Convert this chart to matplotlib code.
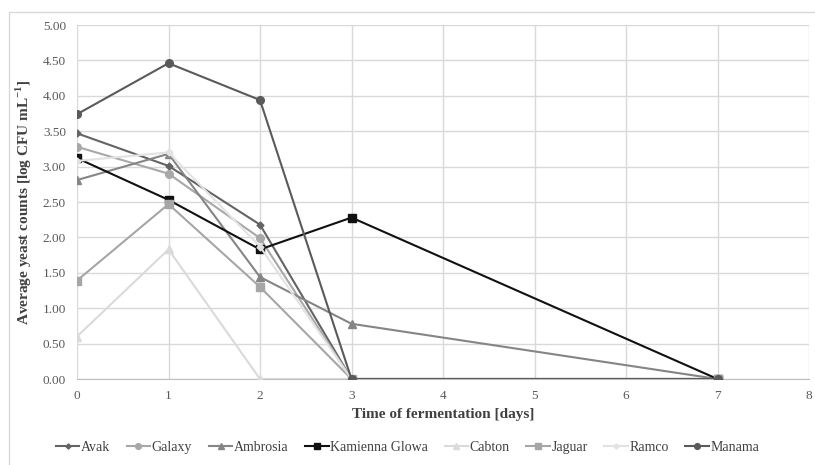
import matplotlib
matplotlib.use("Agg")
import matplotlib.pyplot as plt
from matplotlib.patches import Rectangle

days = [0, 1, 2, 3, 7]
series_names = ["Avak", "Galaxy", "Ambrosia", "Kamienna Glowa", "Cabton", "Jaguar", "Ramco", "Manama"]
avak = [3.47, 3.01, 2.18, 0.0, 0.0]
galaxy = [3.28, 2.90, 1.99, 0.0, 0.0]
ambrosia = [2.81, 3.18, 1.44, 0.78, 0.0]
kamienna = [3.12, 2.53, 1.83, 2.28, 0.0]
cabton = [0.60, 1.83, 0.0, 0.0, 0.0]
jaguar = [1.39, 2.47, 1.30, 0.0, 0.0]
ramco = [3.08, 3.20, 1.87, 0.0, 0.0]
manama = [3.74, 4.46, 3.94, 0.0, 0.0]
y_ticks = [0.0, 0.5, 1.0, 1.5, 2.0, 2.5, 3.0, 3.5, 4.0, 4.5, 5.0]
x_ticks = [0, 1, 2, 3, 4, 5, 6, 7, 8]

values = [avak, galaxy, ambrosia, kamienna, cabton, jaguar, ramco, manama]
colors = ["#646464", "#a8a8a8", "#858585", "#111111", "#dadada", "#a6a6a6", "#e2e2e2", "#5a5a5a"]
markers = ["D", "o", "^", "s", "^", "s", "D", "o"]
msizes = [3.5, 5.5, 5.5, 5.5, 5.5, 5.5, 3.5, 5.5]

plt.rcParams['font.family'] = ['Liberation Serif', 'DejaVu Serif']

fig = plt.figure(figsize=(8.15, 4.65), dpi=100)
ax = fig.add_axes([77/815, 1-379/465, (809-77)/815, (379-25)/465])

fig.patches.append(Rectangle((9/815, -0.05), 1.1, 1-12/465+0.05, transform=fig.transFigure,
                             fill=False, edgecolor="#d9d9d9", linewidth=1.0))

for name, vals, c, m, ms in zip(series_names, values, colors, markers, msizes):
    ax.plot(days, vals, color=c, marker=m, markersize=ms, linewidth=1.5, label=name, zorder=3)

ax.set_xlim(0, 8)
ax.set_ylim(0, 5)
ax.set_xticks(x_ticks)
ax.set_xticklabels([str(v) for v in x_ticks])
ax.set_yticks(y_ticks)
ax.set_yticklabels([f"{v:.2f}" for v in y_ticks])
ax.grid(True, color="#d9d9d9", linewidth=1.0, zorder=0)
ax.set_axisbelow(True)
for s in ["top", "right", "left"]:
    ax.spines[s].set_visible(False)
ax.spines["bottom"].set_color("#bfbfbf")
ax.tick_params(length=0, labelsize=9.5, colors="#595959", pad=8)

ax.set_xlabel("Time of fermentation [days]", fontsize=11, fontweight="bold", color="#404040", labelpad=4)
ax.set_ylabel("Average yeast counts [log CFU mL$^{\\mathregular{-1}}$]", fontsize=11, fontweight="bold",
              color="#404040", labelpad=6)

leg = fig.legend(loc="center", bbox_to_anchor=(0.5, 1-447/465), ncol=8, frameon=False,
                 fontsize=10, handlelength=1.7, handletextpad=0.1, columnspacing=1.2,
                 markerscale=0.75, labelcolor="#404040")

fig.savefig("out.png", dpi=100)
